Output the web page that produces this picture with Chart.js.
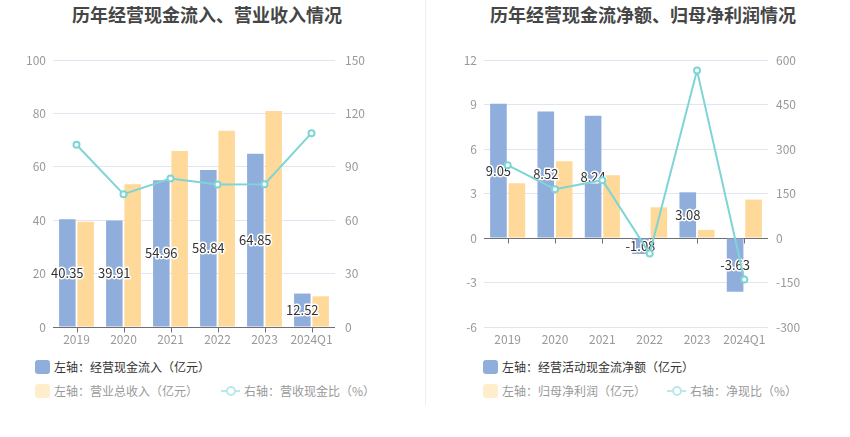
<!DOCTYPE html>
<html>
<head>
<meta charset="utf-8">
<script src="https://cdn.jsdelivr.net/npm/chart.js@4.4.1/dist/chart.umd.min.js"></script>
<style>
  html,body{margin:0;padding:0;background:#fff;}
  body{width:850px;height:437px;position:relative;overflow:hidden;font-family:"Noto Sans CJK SC","Noto Sans",sans-serif;}
  .title{position:absolute;top:2px;font-size:18px;font-weight:bold;color:#464646;white-space:nowrap;transform:translateX(-50%);line-height:24px;}
  .box{position:absolute;top:0;width:425px;height:355px;}
  .divider{position:absolute;left:425px;top:0;width:1px;height:405px;background:#eeeeee;}
  .lg{position:absolute;font-size:12px;line-height:16px;white-space:nowrap;display:flex;align-items:center;}
  .sw{display:inline-block;width:15px;height:14px;border-radius:3px;margin-right:4px;}
  .li{display:inline-block;width:19px;height:14px;position:relative;margin-right:4px;}
  .li:before{content:"";position:absolute;left:0;right:0;top:6px;height:2px;background:#b9e9ea;}
  .li:after{content:"";position:absolute;left:5px;top:2px;width:6px;height:6px;border:2px solid #b9e9ea;border-radius:50%;background:#fff;}
</style>
</head>
<body>
<div class="title" style="left:207px;">历年经营现金流入、营业收入情况</div>
<div class="title" style="left:643px;">历年经营现金流净额、归母净利润情况</div>
<div class="divider"></div>
<div class="box" style="left:0;"><canvas id="c1" width="425" height="355"></canvas></div>
<div class="box" style="left:425px;"><canvas id="c2" width="425" height="355"></canvas></div>

<div class="lg" style="left:35px;top:359px;color:#333;"><span class="sw" style="background:#8faedc;"></span>左轴：经营现金流入（亿元）</div>
<div class="lg" style="left:35px;top:383px;color:#999;"><span class="sw" style="background:#ffedcc;"></span>左轴：营业总收入（亿元）</div>
<div class="lg" style="left:221px;top:383px;color:#999;"><span class="li"></span>右轴：营收现金比（%）</div>

<div class="lg" style="left:483px;top:359px;color:#333;"><span class="sw" style="background:#8faedc;"></span>左轴：经营活动现金流净额（亿元）</div>
<div class="lg" style="left:483px;top:383px;color:#999;"><span class="sw" style="background:#ffedcc;"></span>左轴：归母净利润（亿元）</div>
<div class="lg" style="left:667px;top:383px;color:#999;"><span class="li"></span>右轴：净现比（%）</div>

<script>
const years = ['2019','2020','2021','2022','2023','2024Q1'];
const cashInflow = [40.35, 39.91, 54.96, 58.84, 64.85, 12.52];
const revenue = [39.4, 53.5, 65.9, 73.5, 80.9, 11.5];
const inflowRatio = [102.4, 74.6, 83.4, 80.1, 80.2, 108.9];
const netCash = [9.05, 8.52, 8.24, -1.08, 3.08, -3.63];
const netProfit = [3.69, 5.18, 4.23, 2.07, 0.545, 2.59];
const netRatio = [245.3, 164.5, 194.8, -52.2, 565, -140.2];

const BLUE = '#8faedc', YELLOW = '#ffd999', TEAL = '#7fd4d6';
const TICK = '#999999', GRID = '#e0e6f1', AXIS = '#6e7079';
const FONT = '"Noto Sans CJK SC","Noto Sans",sans-serif';

const axisPlugin = {
  id: 'zeroAxis',
  beforeDatasetsDraw(chart) {
    const x = chart.scales.x, y = chart.scales.y, ctx = chart.ctx;
    const y0 = Math.round(y.getPixelForValue(0)) + 0.5;
    ctx.save();
    ctx.strokeStyle = AXIS; ctx.lineWidth = 1;
    ctx.beginPath();
    ctx.moveTo(chart.chartArea.left, y0); ctx.lineTo(chart.chartArea.right, y0);
    for (let i = 0; i < x.ticks.length; i++) {
      const px = Math.round(x.getPixelForTick(i)) + 0.5;
      ctx.moveTo(px, y0); ctx.lineTo(px, y0 + 5);
    }
    ctx.stroke();
    ctx.restore();
  },
  afterDatasetDraw(chart, args) {
    if (args.index !== 0) return;
    const meta = chart.getDatasetMeta(0), ctx = chart.ctx;
    const data = chart.data.datasets[0].data;
    ctx.save();
    ctx.font = '13px ' + FONT;
    ctx.textAlign = 'center'; ctx.textBaseline = 'middle';
    ctx.lineJoin = 'round';
    meta.data.forEach((bar, i) => {
      const cy = (bar.y + bar.base) / 2;
      const txt = data[i].toFixed(2);
      ctx.strokeStyle = '#fff'; ctx.lineWidth = 3;
      ctx.strokeText(txt, bar.x, cy);
      ctx.fillStyle = '#333'; ctx.fillText(txt, bar.x, cy);
    });
    ctx.restore();
  }
};

function makeChart(id, bars1, bars2, line, lmin, lmax, lstep, rmin, rmax, rstep, lw, rw, lpad, rpad) {
  return new Chart(document.getElementById(id), {
    type: 'bar',
    data: {
      labels: years,
      datasets: [
        { data: bars1, backgroundColor: BLUE, borderWidth: 0, yAxisID: 'y',
          barPercentage: 0.9, categoryPercentage: 0.78, order: 0 },
        { data: bars2, backgroundColor: YELLOW, borderWidth: 0, yAxisID: 'y',
          barPercentage: 0.9, categoryPercentage: 0.78, order: 0 },
        { type: 'line', data: line, yAxisID: 'y2', borderColor: TEAL, borderWidth: 2,
          pointRadius: 3, pointBorderWidth: 2, pointBackgroundColor: '#fff', pointBorderColor: TEAL,
          tension: 0, order: -1 }
      ]
    },
    options: {
      responsive: false, animation: false, devicePixelRatio: 1,
      layout: { padding: { top: 60, left: 0, right: 0, bottom: 0 } },
      plugins: { legend: { display: false }, tooltip: { enabled: false }, title: { display: false } },
      scales: {
        x: {
          grid: { display: false, drawTicks: false }, border: { display: false },
          ticks: { color: TICK, font: { size: 12, family: FONT }, padding: 5, maxRotation: 0, autoSkip: false },
          afterFit(s) { s.height = 28; }
        },
        y: {
          position: 'left', min: lmin, max: lmax,
          ticks: { stepSize: lstep, color: TICK, font: { size: 12, family: FONT }, padding: lpad },
          grid: { color: GRID, drawTicks: false }, border: { display: false },
          afterFit(s) { s.width = lw; }
        },
        y2: {
          position: 'right', min: rmin, max: rmax,
          ticks: { stepSize: rstep, color: TICK, font: { size: 12, family: FONT }, padding: rpad },
          grid: { display: false, drawTicks: false }, border: { display: false },
          afterFit(s) { s.width = rw; }
        }
      }
    },
    plugins: [axisPlugin]
  });
}

makeChart('c1', cashInflow, revenue, inflowRatio, 0, 100, 20, 0, 150, 30, 53, 90, 7, 10);
makeChart('c2', netCash, netProfit, netRatio, -6, 12, 3, -300, 600, 150, 59, 82, 7, 8);
</script>
</body>
</html>
